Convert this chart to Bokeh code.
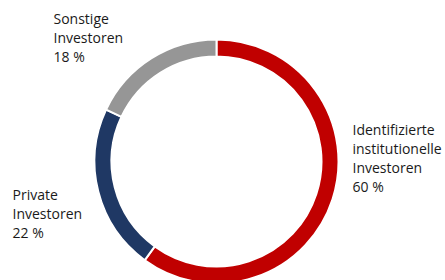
import math
from bokeh.plotting import figure
from bokeh.models import Range1d, ColumnDataSource
from bokeh.core.properties import value
from bokeh.embed import file_html
from bokeh.resources import INLINE

categories = ["Identifizierte institutionelle Investoren", "Private Investoren", "Sonstige Investoren"]
shares = [60, 22, 18]
colors = ["#C00000", "#1F3864", "#969696"]
label_lines = [
    "Identifizierte\ninstitutionelle\nInvestoren\n60 %",
    "Private\nInvestoren\n22 %",
    "Sonstige\nInvestoren\n18 %",
]

W, H = 445, 280
p = figure(width=W, height=H, output_backend="svg", toolbar_location=None,
           x_range=Range1d(0, W), y_range=Range1d(0, H),
           min_border=0)
p.axis.visible = False
p.grid.visible = False
p.outline_line_color = None
p.background_fill_color = "white"

total = sum(shares)
starts, ends = [], []
a = math.pi / 2
for s in shares:
    starts.append(a)
    a -= s / total * 2 * math.pi
    ends.append(a)

cx, cy = 216, 280 - 161
src = ColumnDataSource(dict(x=[cx] * 3, y=[cy] * 3, start=ends, end=starts, color=colors))
p.annular_wedge(x="x", y="y", inner_radius=105, outer_radius=122,
                start_angle="start", end_angle="end", direction="anticlock",
                fill_color="color", line_color="white", line_width=2, source=src)

lx = [352, 12, 53]
ly = [280 - 119, 280 - 184, 280 - 8]
p.text(x=lx, y=ly, text=label_lines, text_font=value("Open Sans"),
       text_font_size="14px", text_color="#1a1a1a", text_baseline="top",
       text_align="left", text_line_height=1.0)

open("out.html", "w").write(file_html(p, INLINE))
